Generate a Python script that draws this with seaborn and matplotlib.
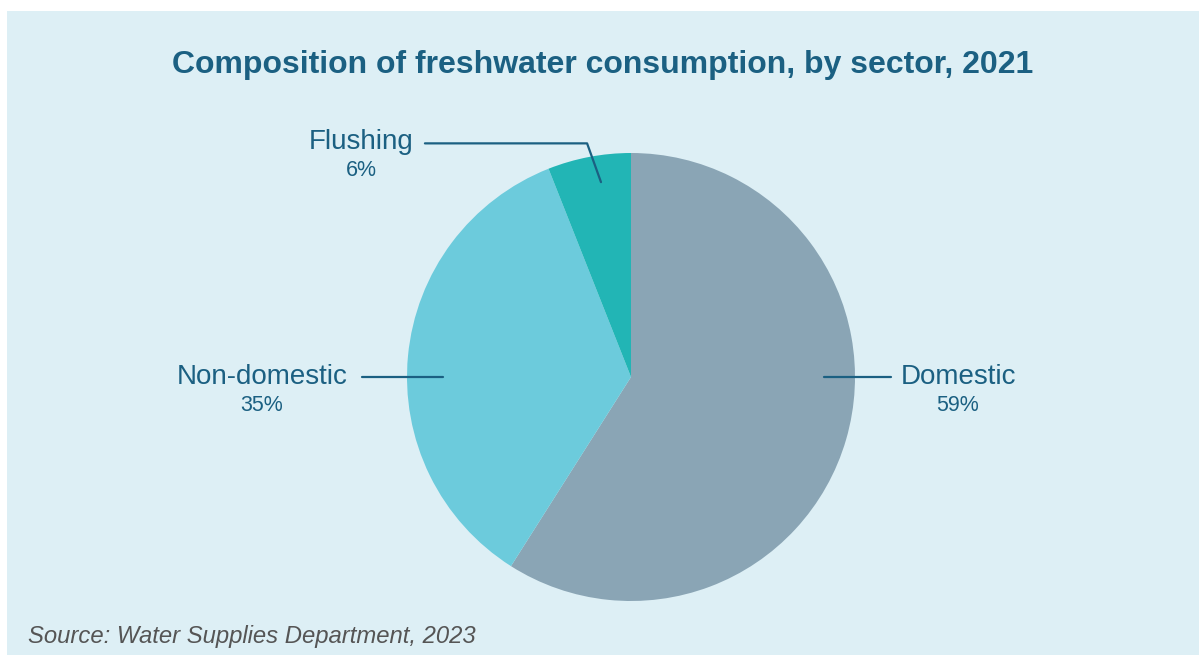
import matplotlib
matplotlib.use("Agg")
import matplotlib.pyplot as plt
import seaborn as sns
from matplotlib.patches import Rectangle

# ---- data ----
sectors = ["Domestic", "Non-domestic", "Flushing"]
shares = [59, 35, 6]
pct_labels = ["59%", "35%", "6%"]
colors = ["#8aa5b5", "#6ccbdc", "#22b5b5"]

title = "Composition of freshwater consumption, by sector, 2021"
source = "Source: Water Supplies Department, 2023"

sns.set_theme(style="white")
plt.rcParams["font.family"] = ["Liberation Sans", "DejaVu Sans"]

W, H = 1199, 655
fig = plt.figure(figsize=(W / 100, H / 100), dpi=100, facecolor="white")

# panel background
fig.patches.append(Rectangle((7 / W, 0), 1 - 7 / W, 1 - 11 / H, transform=fig.transFigure,
                             facecolor="#ddeff5", edgecolor="none", zorder=-10))

cx, cy, r = 631, H - 377, 224
ax = fig.add_axes([(cx - r) / W, (cy - r) / H, 2 * r / W, 2 * r / H])
ax.set_zorder(5)
ax.set_facecolor("none")
ax.pie(shares, colors=colors, startangle=90, counterclock=False,
       wedgeprops=dict(linewidth=0), radius=1)
ax.set_xlim(-1, 1)
ax.set_ylim(-1, 1)
ax.set_aspect("equal")
ax.axis("off")

tc = "#1b6082"
lw = 1.6
# leader lines
ax.plot([0.86, 1.16], [0, 0], color=tc, lw=lw, clip_on=False)
ax.plot([-0.84, -1.20], [0, 0], color=tc, lw=lw, clip_on=False)
ax.plot([-0.134, -0.196, -0.92], [0.87, 1.043, 1.043], color=tc, lw=lw, clip_on=False)

label_pos = [(1.46, 0.0, -0.125), (-1.647, 0.0, -0.125), (-1.203, 1.049, 0.924)]
for name, pct, (x, y1, y2) in zip(sectors, pct_labels, label_pos):
    ax.text(x, y1, name, ha="center", va="center", fontsize=20, color=tc, clip_on=False)
    ax.text(x, y2, pct, ha="center", va="center", fontsize=15.5, color=tc, clip_on=False)

fig.text(602.5 / W, 1 - 65 / H, title, ha="center", va="center", fontsize=23,
         fontweight="bold", color=tc)
fig.text(28 / W, 1 - 637 / H, source, ha="left", va="center", fontsize=17.2,
         style="italic", color="#555555")

fig.savefig("out.png", dpi=100, facecolor="white")
